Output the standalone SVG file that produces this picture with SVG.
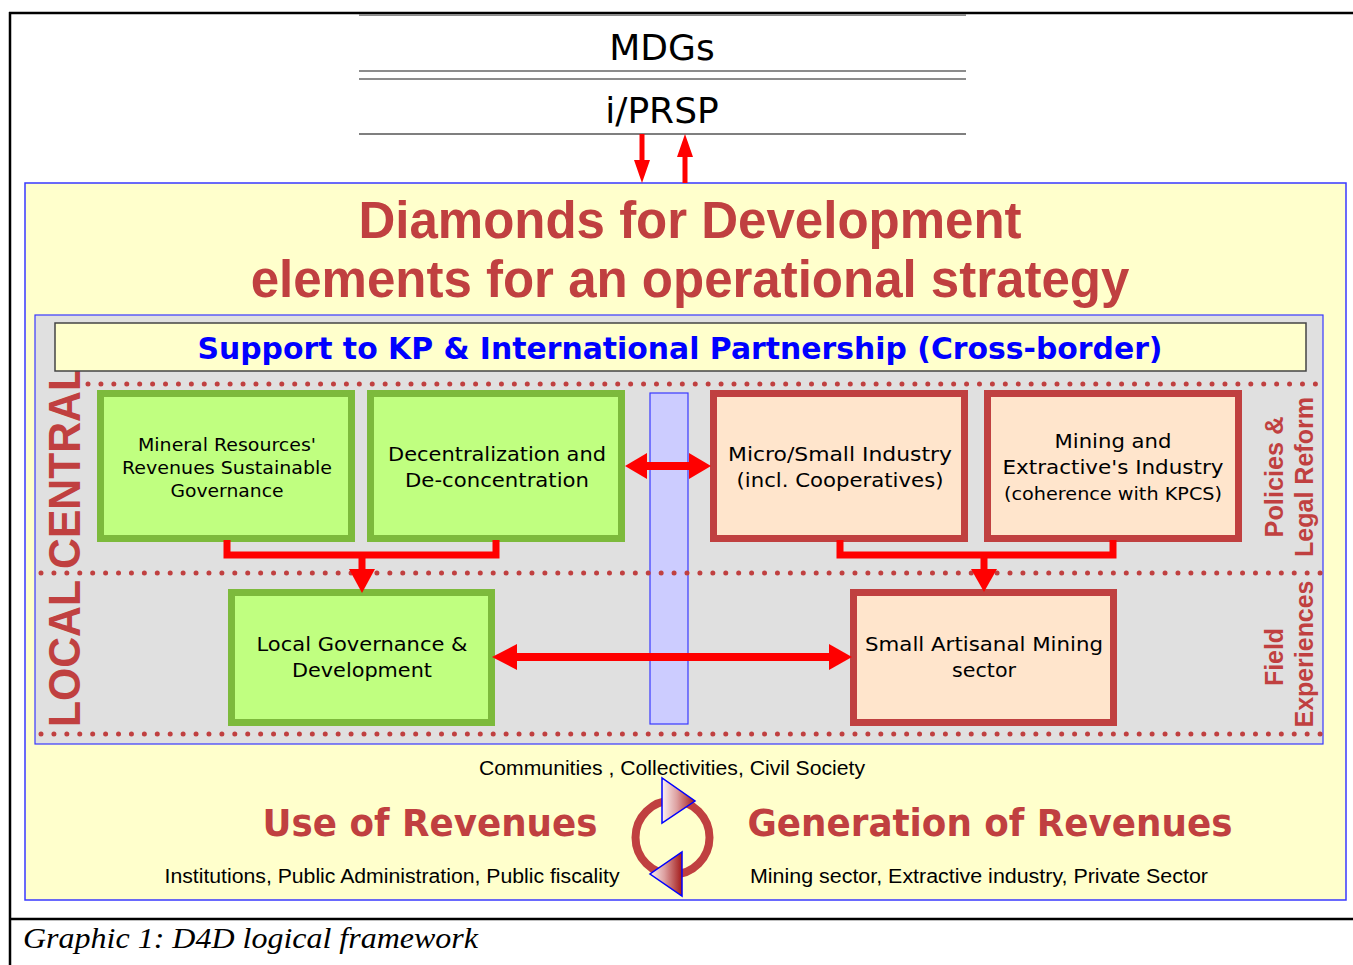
<svg xmlns="http://www.w3.org/2000/svg" width="1353" height="965" viewBox="0 0 1353 965">
  <style>
    .frame { stroke: #000; stroke-width: 2.5; fill: none; }
    .rule { stroke: #8c8c8c; stroke-width: 2; }
    .rule-dark { stroke: #555; stroke-width: 1.5; }
    .head { font-family: "DejaVu Sans", sans-serif; font-size: 36px; fill: #000; text-anchor: middle; }
    .title { font-family: "Liberation Sans", Arial, sans-serif; font-weight: bold; font-size: 51px; fill: #C04040; text-anchor: middle; }
    .support { font-family: "DejaVu Sans", sans-serif; font-weight: bold; font-size: 30px; fill: #0000FF; text-anchor: middle; }
    .green { fill: #C0FF80; stroke: #7DBA3C; stroke-width: 7; }
    .peach { fill: #FFE5CC; stroke: #C04040; stroke-width: 7; }
    .box { font-family: "DejaVu Sans", sans-serif; font-size: 20px; fill: #000; text-anchor: middle; }
    .box-s { font-size: 18px; }
    .dots { stroke: #C04040; stroke-width: 5; stroke-linecap: round; stroke-dasharray: 0 12.92; fill: none; }
    .side { font-family: "Liberation Sans", Arial, sans-serif; font-weight: bold; font-size: 26px; fill: #C04040; text-anchor: middle; }
    .band { font-family: "Liberation Sans", Arial, sans-serif; font-weight: bold; font-size: 44px; fill: #C04040; }
    .conn { stroke: #FF0000; stroke-width: 7; fill: none; }
    .shaft { stroke: #FF0000; stroke-width: 8; fill: none; }
    .thin { stroke: #FF0000; stroke-width: 5; fill: none; }
    .tip { fill: #FF0000; }
    .rev { font-family: "DejaVu Sans", sans-serif; font-weight: bold; font-size: 37px; fill: #C04040; text-anchor: middle; }
    .small { font-family: "Liberation Sans", Arial, sans-serif; font-size: 20px; fill: #000; text-anchor: middle; }
    .caption { font-family: "Liberation Serif", "Times New Roman", serif; font-style: italic; font-size: 29px; fill: #000; }
  </style>
  <defs>
    <linearGradient id="shade" x1="0" y1="0" x2="1" y2="0">
      <stop offset="0" stop-color="#FBF2F2"/>
      <stop offset="0.45" stop-color="#DDA0A0"/>
      <stop offset="1" stop-color="#A31A1A"/>
    </linearGradient>
  </defs>

  <rect width="1353" height="965" fill="#fff"/>

  <!-- page frame -->
  <g id="frame">
    <line class="frame" x1="9" y1="13" x2="1353" y2="13"/>
    <line class="frame" x1="10" y1="12" x2="10" y2="965"/>
    <line class="frame" x1="9" y1="919" x2="1353" y2="919"/>
  </g>

  <!-- MDGs / i/PRSP header table -->
  <g id="header">
    <line class="rule" x1="359" y1="15" x2="966" y2="15"/>
    <text class="head" x="662" y="60">MDGs</text>
    <line class="rule" x1="359" y1="71" x2="966" y2="71"/>
    <line class="rule" x1="359" y1="79" x2="966" y2="79"/>
    <text class="head" x="662" y="123">i/PRSP</text>
    <line class="rule-dark" x1="359" y1="134" x2="966" y2="134"/>
  </g>

  <!-- main panel -->
  <g id="panel">
    <rect x="25" y="183" width="1321" height="717" fill="#FFFFCC" stroke="#3838FF" stroke-width="1.5"/>
    <text class="title" x="690" y="238">Diamonds for Development</text>
    <text class="title" x="690" y="297">elements for an operational strategy</text>
  </g>

  <!-- inner grey area with levels -->
  <g id="levels">
    <rect x="35" y="315" width="1288" height="429" fill="#E0E0E0" stroke="#3838FF" stroke-width="1.2"/>
  </g>

  <g id="axis">
    <rect x="650" y="393" width="38" height="331" fill="#CCCCFF" stroke="#3838FF" stroke-width="1.2"/>
  </g>

  <g id="level-lines">
    <path class="dots" d="M88 384 H1320"/>
    <path class="dots" d="M41 573 H1322"/>
    <path class="dots" d="M41 734 H1322"/>
  </g>

  <g id="label-local-central">
    <text class="band" transform="translate(80 727) rotate(-90)" textLength="362" lengthAdjust="spacingAndGlyphs">LOCAL CENTRAL</text>
  </g>

  <g id="support">
    <rect x="55" y="323" width="1251" height="48" fill="#FFFFCC" stroke="#444" stroke-width="1.5"/>
    <text class="support" x="680" y="359" textLength="965" lengthAdjust="spacingAndGlyphs">Support to KP &amp; International Partnership (Cross-border)</text>
  </g>

  <g id="label-policies">
    <text class="side" transform="translate(1283 477) rotate(-90)" textLength="121" lengthAdjust="spacingAndGlyphs">Policies &amp;</text>
    <text class="side" transform="translate(1313 477) rotate(-90)" textLength="160" lengthAdjust="spacingAndGlyphs">Legal Reform</text>
  </g>
  <g id="label-field">
    <text class="side" transform="translate(1283 657) rotate(-90)" textLength="58" lengthAdjust="spacingAndGlyphs">Field</text>
    <text class="side" transform="translate(1313 654) rotate(-90)" textLength="147" lengthAdjust="spacingAndGlyphs">Experiences</text>
  </g>

  <!-- nodes -->
  <g id="node-mineral">
    <rect class="green" x="100.5" y="393.5" width="251" height="145"/>
    <text class="box box-s" x="227" y="451" textLength="178" lengthAdjust="spacingAndGlyphs">Mineral Resources'</text>
    <text class="box box-s" x="227" y="474" textLength="210" lengthAdjust="spacingAndGlyphs">Revenues Sustainable</text>
    <text class="box box-s" x="227" y="497" textLength="113" lengthAdjust="spacingAndGlyphs">Governance</text>
  </g>
  <g id="node-decentralization">
    <rect class="green" x="370.5" y="393.5" width="251" height="145"/>
    <text class="box" x="497" y="461" textLength="218" lengthAdjust="spacingAndGlyphs">Decentralization and</text>
    <text class="box" x="497" y="487" textLength="184" lengthAdjust="spacingAndGlyphs">De-concentration</text>
  </g>
  <g id="node-micro">
    <rect class="peach" x="713.5" y="393.5" width="251" height="145"/>
    <text class="box" x="840" y="461" textLength="224" lengthAdjust="spacingAndGlyphs">Micro/Small Industry</text>
    <text class="box" x="840" y="487" textLength="207" lengthAdjust="spacingAndGlyphs">(incl. Cooperatives)</text>
  </g>
  <g id="node-mining">
    <rect class="peach" x="987.5" y="393.5" width="251" height="145"/>
    <text class="box" x="1113" y="448" textLength="117" lengthAdjust="spacingAndGlyphs">Mining and</text>
    <text class="box" x="1113" y="474" textLength="221" lengthAdjust="spacingAndGlyphs">Extractive's Industry</text>
    <text class="box box-s" x="1113" y="500" textLength="218" lengthAdjust="spacingAndGlyphs">(coherence with KPCS)</text>
  </g>
  <g id="node-local">
    <rect class="green" x="231.5" y="592.5" width="260" height="130"/>
    <text class="box" x="362" y="651" textLength="211" lengthAdjust="spacingAndGlyphs">Local Governance &amp;</text>
    <text class="box" x="362" y="677" textLength="140" lengthAdjust="spacingAndGlyphs">Development</text>
  </g>
  <g id="node-artisanal">
    <rect class="peach" x="853.5" y="592.5" width="260" height="130"/>
    <text class="box" x="984" y="651" textLength="238" lengthAdjust="spacingAndGlyphs">Small Artisanal Mining</text>
    <text class="box" x="984" y="677" textLength="64" lengthAdjust="spacingAndGlyphs">sector</text>
  </g>

  <!-- connectors -->
  <g id="connectors">
    <line class="thin" x1="642" y1="134" x2="642" y2="162"/>
    <polygon class="tip" points="634,160 650,160 642,183"/>
    <line class="thin" x1="685" y1="156" x2="685" y2="183"/>
    <polygon class="tip" points="677,157 693,157 685,134"/>

    <path class="conn" d="M227 540 V555 H496 V540"/>
    <line class="conn" x1="362" y1="555" x2="362" y2="571"/>
    <polygon class="tip" points="349,569 375,569 362,593"/>

    <path class="conn" d="M840 540 V555 H1113 V540"/>
    <line class="conn" x1="984" y1="555" x2="984" y2="571"/>
    <polygon class="tip" points="971,569 997,569 984,592"/>

    <line class="shaft" x1="644" y1="466" x2="692" y2="466"/>
    <polygon class="tip" points="625,466 647,453 647,479"/>
    <polygon class="tip" points="711,466 689,453 689,479"/>

    <line class="shaft" x1="514" y1="657" x2="833" y2="657"/>
    <polygon class="tip" points="492,657 517,644 517,670"/>
    <polygon class="tip" points="852,657 829,644 829,670"/>
  </g>

  <!-- revenue cycle -->
  <g id="cycle">
    <text class="small" x="672" y="775" textLength="386" lengthAdjust="spacingAndGlyphs">Communities , Collectivities, Civil Society</text>
    <text class="rev" x="430" y="836" textLength="335" lengthAdjust="spacingAndGlyphs">Use of Revenues</text>
    <text class="rev" x="990" y="836" textLength="485" lengthAdjust="spacingAndGlyphs">Generation of Revenues</text>
    <text class="small" x="392" y="883" textLength="455" lengthAdjust="spacingAndGlyphs">Institutions, Public Administration, Public fiscality</text>
    <text class="small" x="979" y="883" textLength="458" lengthAdjust="spacingAndGlyphs">Mining sector, Extractive industry, Private Sector</text>
    <circle cx="672.5" cy="837.5" r="37" fill="none" stroke="#C04040" stroke-width="8"/>
    <polygon points="662,778 662,823 695,801" fill="url(#shade)" stroke="#0000FF" stroke-width="1.5"/>
    <polygon points="682,852 682,896 650,874" fill="url(#shade)" stroke="#0000FF" stroke-width="1.5"/>
  </g>

  <g id="caption">
    <text class="caption" x="23" y="948" textLength="455" lengthAdjust="spacingAndGlyphs">Graphic 1: D4D logical framework</text>
  </g>
</svg>
